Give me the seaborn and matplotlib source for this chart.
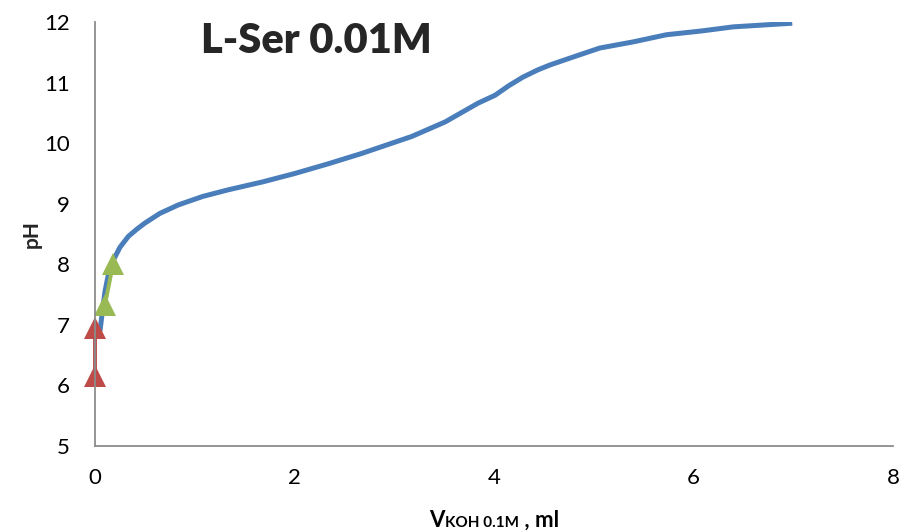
import matplotlib
matplotlib.use("Agg")
import matplotlib.pyplot as plt
import seaborn as sns
import pandas as pd
from matplotlib.offsetbox import TextArea, HPacker, AnnotationBbox

# data
curve_x = [0.05, 0.08, 0.1, 0.13, 0.16, 0.2, 0.25, 0.334, 0.42, 0.5, 0.65, 0.835, 1.08, 1.337, 1.68, 2.005,
           2.34, 2.674, 3.175, 3.51, 3.84, 4.01, 4.15, 4.29, 4.44, 4.56, 4.79, 5.06, 5.39,
           5.73, 6.07, 6.4, 6.99]
curve_y = [6.9, 7.3, 7.55, 7.8, 8.0, 8.12, 8.28, 8.46, 8.58, 8.68, 8.84, 8.98, 9.12, 9.23, 9.36, 9.5,
           9.66, 9.83, 10.11, 10.35, 10.66, 10.79, 10.95, 11.09, 11.21, 11.29, 11.42, 11.57, 11.67,
           11.79, 11.85, 11.92, 11.98]
red_x = [0.0, 0.0]
red_y = [6.15, 6.95]
green_x = [0.1, 0.18]
green_y = [7.33, 8.0]
x_ticks = [0, 2, 4, 6, 8]
y_ticks = [5, 6, 7, 8, 9, 10, 11, 12]
title = "L-Ser 0.01M"

sns.set_theme(style="white")
plt.rcParams['font.family'] = ['Lato', 'DejaVu Sans']

fig = plt.figure(figsize=(8.99, 5.31), dpi=100)
ax = fig.add_axes([95/899, 1-446/531, (893-95)/899, (446-22)/531])

df_c = pd.DataFrame({"x": curve_x, "y": curve_y})
df_r = pd.DataFrame({"x": red_x, "y": red_y})
df_g = pd.DataFrame({"x": green_x, "y": green_y})

sns.lineplot(data=df_c, x="x", y="y", sort=False, estimator=None, ax=ax,
             color="#4A7EBB", lw=3.6, solid_capstyle='butt', solid_joinstyle='round')
sns.lineplot(data=df_r, x="x", y="y", sort=False, estimator=None, ax=ax, color="#BE4B48", lw=2.8,
             marker="^", markersize=16, markeredgewidth=0, clip_on=False)
sns.lineplot(data=df_g, x="x", y="y", sort=False, estimator=None, ax=ax, color="#98B954", lw=2.8,
             marker="^", markersize=16, markeredgewidth=0, clip_on=False)

ax.set_xlim(0, 8)
ax.set_ylim(5, 12)
ax.set_xticks(x_ticks)
ax.set_yticks(y_ticks)
ax.tick_params(axis='both', labelsize=16, labelcolor='#000000', color='#8C8C8C',
               length=5, width=1.2, direction='out')
ax.tick_params(axis='y', pad=13)
ax.tick_params(axis='x', pad=11)
for s in ['top', 'right']:
    ax.spines[s].set_visible(False)
for s in ['left', 'bottom']:
    ax.spines[s].set_color('#8C8C8C')
    ax.spines[s].set_linewidth(1.3)

ax.set_xlabel("")
ax.set_ylabel("pH", fontsize=15, fontweight='bold', labelpad=2)

ax.text(0.277, 0.927, title, transform=ax.transAxes, fontsize=30,
        fontweight='heavy', ha='center', va='baseline')

big = dict(fontsize=16, fontweight='bold', color='black', family=['Lato', 'DejaVu Sans'])
small = dict(fontsize=11, fontweight='bold', color='black', family=['Lato', 'DejaVu Sans'])
pack = HPacker(children=[TextArea("V", textprops=big),
                         TextArea("KOH 0.1M", textprops=small),
                         TextArea(" , ml", textprops=big)],
               align="baseline", pad=0, sep=0)
ab = AnnotationBbox(pack, (0.5, -0.175), xycoords='axes fraction', frameon=False,
                    box_alignment=(0.5, 0.5))
ax.add_artist(ab)

fig.savefig("out.png", dpi=100)
